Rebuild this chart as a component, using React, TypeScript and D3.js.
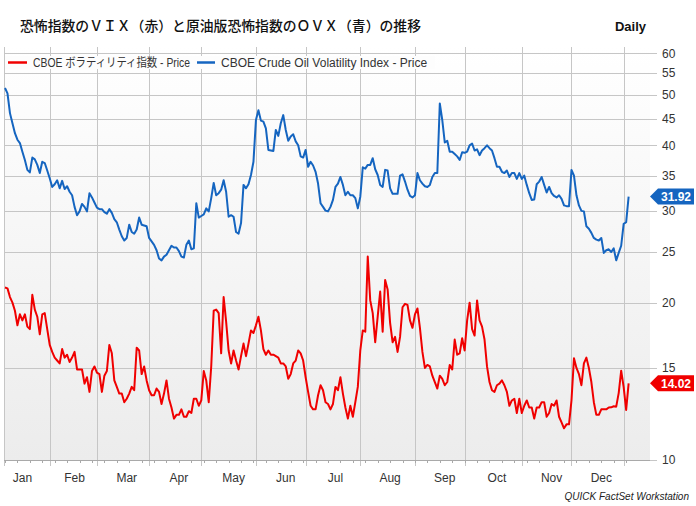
import React, { useRef, useEffect } from "react";
import * as d3 from "d3";

// daily closes, trading days from early Jan 2019 to early Jan 2020
const vix = [
  21.38, 21.3, 20.5, 20.0, 19.3, 18.1, 19.0, 18.5, 19.0, 18.0,
  17.8, 20.7, 19.4, 18.8, 17.4, 19.0, 19.1, 17.8, 16.6, 16.1,
  15.7, 15.5, 15.3, 16.3, 15.7, 15.9, 15.4, 15.7, 16.1, 14.9,
  14.9, 14.9, 14.0, 14.4, 13.5, 14.8, 15.1, 14.7, 14.6, 13.5,
  14.5, 14.8, 16.6, 16.0, 14.2, 13.8, 13.4, 13.4, 12.9, 13.1,
  13.4, 13.8, 13.6, 16.4, 16.2, 14.6, 15.1, 14.2, 13.6, 13.3,
  13.3, 13.7, 13.5, 12.8, 13.4, 14.2, 13.1, 12.6, 12.0, 12.2,
  12.2, 12.5, 12.1, 12.1, 12.4, 12.3, 13.1, 13.1, 12.7, 13.0,
  14.8, 14.2, 12.9, 15.1, 19.3, 19.4, 19.1, 16.0, 20.5, 18.4,
  16.2, 15.3, 16.2, 15.5, 14.9, 15.8, 16.7, 15.8, 16.7, 17.7,
  17.5, 18.1, 18.8, 17.7, 16.3, 15.9, 16.2, 15.9, 15.9, 15.8,
  15.7, 15.3, 15.3, 15.1, 14.3, 14.6, 15.3, 15.5, 16.2, 16.0,
  15.5, 14.4, 13.5, 12.7, 12.5, 12.5, 13.3, 13.9, 13.6, 12.9,
  12.8, 12.5, 12.8, 13.8, 13.6, 14.4, 13.4, 12.6, 12.0, 12.7,
  12.1, 12.9, 13.8, 16.2, 17.7, 17.6, 24.5, 20.2, 19.1, 16.8,
  18.8, 21.0, 17.6, 22.1, 21.2, 18.3, 16.8, 17.2, 16.1, 17.2,
  19.6, 19.9, 19.8, 18.5, 17.9, 19.0, 19.5, 17.9, 16.1, 15.0,
  15.2, 15.1, 14.5, 14.1, 13.7, 14.5, 14.3, 13.9, 14.1, 15.2,
  14.9, 17.0, 15.9, 16.0, 17.1, 16.2, 18.5, 20.0, 17.8, 17.3,
  20.2, 18.5, 18.0, 17.0, 15.1, 14.1, 13.6, 13.5, 13.9, 14.0,
  14.2, 13.9, 13.5, 12.7, 13.0, 13.1, 12.3, 13.1, 12.3, 12.7,
  13.0, 12.6, 12.6, 12.0, 12.6, 12.6, 12.9, 12.9, 12.1, 12.3,
  12.8, 12.7, 13.0, 12.1, 11.8, 11.5, 11.7, 11.7, 13.0, 15.65,
  15.0, 14.6, 13.9, 15.3, 15.7, 15.0, 14.1, 12.9, 12.2, 12.2,
  12.5, 12.5, 12.5, 12.6, 12.61, 12.67, 12.65, 13.43, 14.82, 13.78,
  12.47, 14.02,
];

const ovx = [
  51.5, 50.3, 46.1, 44.1, 42.2, 41.0, 40.4, 38.9, 37.5, 35.9,
  35.5, 37.9, 37.6, 36.7, 35.4, 37.2, 37.0, 35.8, 34.6, 33.3,
  33.7, 34.3, 33.1, 34.2, 33.0, 33.4, 32.6, 32.1, 30.5, 29.4,
  29.9, 30.9, 30.5, 29.9, 32.4, 31.8, 31.1, 30.4, 30.2, 30.2,
  29.8, 29.6, 30.2, 29.7, 28.9, 28.5, 27.6, 26.8, 26.3, 26.6,
  28.2, 27.3, 27.1, 27.6, 29.1, 28.2, 28.1, 28.0, 26.6, 26.2,
  25.8, 25.2, 24.3, 24.1, 24.5, 24.7, 25.2, 25.7, 25.5, 25.5,
  25.1, 24.5, 24.4, 25.8, 26.3, 25.3, 25.4, 31.0, 29.1, 29.3,
  29.5, 30.3, 29.9, 31.7, 33.9, 32.1, 32.4, 32.9, 34.3, 32.6,
  29.2, 29.4, 29.2, 27.3, 27.1, 28.4, 33.6, 33.1, 33.7, 35.1,
  37.2, 44.7, 46.7, 44.6, 44.4, 43.1, 39.2, 39.1, 39.0, 42.8,
  41.7, 44.1, 45.7, 42.8, 40.8, 41.6, 42.0, 40.7, 40.0, 38.1,
  37.9, 39.2, 36.4, 37.2, 36.6, 35.6, 33.8, 31.0, 30.5, 30.0,
  29.9, 30.5, 31.45, 33.3, 33.8, 34.8, 33.6, 32.1, 32.6, 32.1,
  32.1, 31.7, 30.3, 31.9, 36.3, 36.1, 36.7, 36.7, 37.8, 36.0,
  35.1, 33.6, 33.3, 35.9, 35.8, 33.1, 32.3, 32.3, 32.3, 35.0,
  35.2, 34.1, 32.9, 32.0, 31.8, 32.1, 35.4, 34.3, 33.8, 33.4,
  33.3, 33.6, 34.8, 35.4, 35.4, 48.1, 44.7, 40.5, 40.8, 38.9,
  38.9, 38.5, 38.1, 37.5, 38.8, 38.7, 38.9, 40.0, 40.3, 39.1,
  39.3, 38.3, 39.1, 39.5, 40.0, 39.5, 39.1, 37.8, 36.4, 36.4,
  35.6, 35.4, 35.8, 34.8, 35.4, 35.4, 34.5, 35.4, 34.5, 35.0,
  33.6, 32.4, 31.45, 31.5, 33.7, 34.1, 34.8, 33.6, 32.5, 33.3,
  32.4, 32.0, 31.8, 32.1, 31.6, 30.7, 30.6, 30.6, 35.9, 35.0,
  32.1, 30.7, 29.97, 29.9, 28.0, 27.7, 27.2, 26.6, 26.4, 26.3,
  26.6, 24.9, 25.2, 25.3, 25.0, 25.4, 24.1, 24.9, 25.7, 28.3,
  28.5, 31.92,
];

const monthLabels = ["Jan", "Feb", "Mar", "Apr", "May", "Jun", "Jul", "Aug", "Sep", "Oct", "Nov", "Dec"];
// trading-day index where each month label sits
const monthLabelIdx = [7, 28, 49, 70, 92, 113, 133, 155, 177, 198, 220, 240];
// trading-day index of the month boundaries (gridlines)
const monthEndIdx = [18, 37, 58, 79, 101, 121, 143, 165, 185, 208, 228, 249];
const yTicks = [10, 15, 20, 25, 30, 35, 40, 45, 50, 55, 60];

const title = "恐怖指数のＶＩＸ（赤）と原油版恐怖指数のＯＶＸ（青）の推移";
const vixName = "CBOE ボラティリティ指数 - Price";
const ovxName = "CBOE Crude Oil Volatility Index - Price";

const RED = "#f00000";
const BLUE = "#1565c0";
const GRID = "#c6c6c6";
const LATIN = "'Liberation Sans', Arial, 'Noto Sans CJK JP', sans-serif";

const App = () => {
  const ref = useRef<SVGSVGElement>(null);

  useEffect(() => {
    document.body.style.margin = "0";
    const svg = d3.select(ref.current);
    svg.selectAll("*").remove();

    const left = 4, right = 650, top = 47, bottom = 460;

    const x = d3.scaleLinear().domain([-0.4, 259.6]).range([left, right]);
    const y = d3.scaleLog().domain([10, 60]).range([bottom, 53.3]);

    // plot background
    const grad = svg
      .append("defs")
      .append("linearGradient")
      .attr("id", "bg")
      .attr("x1", 0).attr("y1", 0).attr("x2", 0).attr("y2", 1);
    grad.append("stop").attr("offset", "0%").attr("stop-color", "#ffffff");
    grad.append("stop").attr("offset", "100%").attr("stop-color", "#ececec");

    svg
      .append("rect")
      .attr("x", left).attr("y", top)
      .attr("width", right - left).attr("height", bottom - top)
      .attr("fill", "url(#bg)");

    // horizontal grid + right ticks
    svg
      .append("g")
      .selectAll("line")
      .data(yTicks)
      .join("line")
      .attr("x1", left).attr("x2", right + 7)
      .attr("y1", (d) => Math.round(y(d)) + 0.5)
      .attr("y2", (d) => Math.round(y(d)) + 0.5)
      .attr("stroke", GRID);

    // vertical month grid
    svg
      .append("g")
      .selectAll("line")
      .data(monthEndIdx)
      .join("line")
      .attr("x1", (d) => Math.round(x(d)) + 0.5)
      .attr("x2", (d) => Math.round(x(d)) + 0.5)
      .attr("y1", top).attr("y2", bottom + 6)
      .attr("stroke", GRID);

    // left border
    svg
      .append("line")
      .attr("x1", left + 0.5).attr("x2", left + 0.5)
      .attr("y1", top).attr("y2", bottom + 6)
      .attr("stroke", GRID);

    // bottom axis + weekly ticks
    svg
      .append("line")
      .attr("x1", left).attr("x2", right)
      .attr("y1", bottom + 0.5).attr("y2", bottom + 0.5)
      .attr("stroke", "#a9a9a9");

    svg
      .append("g")
      .selectAll("line")
      .data(d3.range(0, vix.length, 5))
      .join("line")
      .attr("x1", (d) => Math.round(x(d)) + 0.5)
      .attr("x2", (d) => Math.round(x(d)) + 0.5)
      .attr("y1", bottom).attr("y2", bottom + 3)
      .attr("stroke", "#a9a9a9");

    // legend backdrop
    svg
      .append("rect")
      .attr("x", left + 1).attr("y", 56)
      .attr("width", 430).attr("height", 13)
      .attr("fill", "#fdfdfd");

    // series lines
    const line = d3
      .line<number>()
      .x((d, i) => x(i))
      .y((d) => y(d));

    svg
      .append("path")
      .datum(ovx)
      .attr("fill", "none")
      .attr("stroke", BLUE)
      .attr("stroke-width", 2)
      .attr("stroke-linejoin", "round")
      .attr("d", line);

    svg
      .append("path")
      .datum(vix)
      .attr("fill", "none")
      .attr("stroke", RED)
      .attr("stroke-width", 2)
      .attr("stroke-linejoin", "round")
      .attr("d", line);

    // y labels
    svg
      .append("g")
      .selectAll("text")
      .data(yTicks)
      .join("text")
      .attr("x", 662)
      .attr("y", (d) => y(d))
      .attr("dy", "0.35em")
      .attr("font-family", LATIN)
      .attr("font-size", 12)
      .attr("fill", "#333")
      .text((d) => d);

    // month labels
    svg
      .append("g")
      .selectAll("text")
      .data(monthLabels)
      .join("text")
      .attr("x", (d, i) => x(monthLabelIdx[i]))
      .attr("y", 478)
      .attr("dy", "0.35em")
      .attr("text-anchor", "middle")
      .attr("font-family", LATIN)
      .attr("font-size", 12)
      .attr("fill", "#333")
      .text((d) => d);

    // last value tags
    const tags = [
      { v: ovx[ovx.length - 1], c: BLUE },
      { v: vix[vix.length - 1], c: RED },
    ];
    tags.forEach((t) => {
      const yy = y(t.v);
      svg
        .append("path")
        .attr("d", `M${right},${yy} L${right + 8},${yy - 8} L694,${yy - 8} L694,${yy + 8} L${right + 8},${yy + 8} Z`)
        .attr("fill", t.c);
      svg
        .append("text")
        .attr("x", 676)
        .attr("y", yy)
        .attr("dy", "0.36em")
        .attr("text-anchor", "middle")
        .attr("font-family", LATIN)
        .attr("font-size", 12)
        .attr("font-weight", "bold")
        .attr("fill", "#fff")
        .text(t.v.toFixed(2));
    });

    // legend
    const legend = svg.append("g").attr("font-family", LATIN).attr("font-size", 12).attr("fill", "#333");
    legend.append("line").attr("x1", 8).attr("x2", 27).attr("y1", 62.5).attr("y2", 62.5).attr("stroke", RED).attr("stroke-width", 2.5);
    legend
      .append("text")
      .attr("x", 33).attr("y", 62.5).attr("dy", "0.35em")
      .attr("textLength", 157)
      .attr("lengthAdjust", "spacingAndGlyphs")
      .text(vixName);
    legend.append("line").attr("x1", 197).attr("x2", 215).attr("y1", 62.5).attr("y2", 62.5).attr("stroke", BLUE).attr("stroke-width", 2.5);
    legend.append("text").attr("x", 221).attr("y", 62.5).attr("dy", "0.35em").text(ovxName);

    // titles
    svg
      .append("text")
      .attr("x", 20).attr("y", 31)
      .attr("font-family", "'Noto Sans CJK JP', sans-serif")
      .attr("font-size", 14)
      .attr("font-weight", 500)
      .attr("fill", "#111")
      .attr("textLength", 401)
      .attr("lengthAdjust", "spacingAndGlyphs")
      .text(title);

    svg
      .append("text")
      .attr("x", 646).attr("y", 31)
      .attr("text-anchor", "end")
      .attr("font-family", LATIN)
      .attr("font-size", 13)
      .attr("font-weight", "bold")
      .attr("fill", "#111")
      .text("Daily");

    svg
      .append("text")
      .attr("x", 689).attr("y", 500)
      .attr("text-anchor", "end")
      .attr("font-family", LATIN)
      .attr("font-size", 10)
      .attr("font-style", "italic")
      .attr("fill", "#222")
      .text("QUICK FactSet Workstation");
  }, []);

  return <svg ref={ref} width={696} height={506} style={{ display: "block", background: "#fff" }} />;
};

export default App;
